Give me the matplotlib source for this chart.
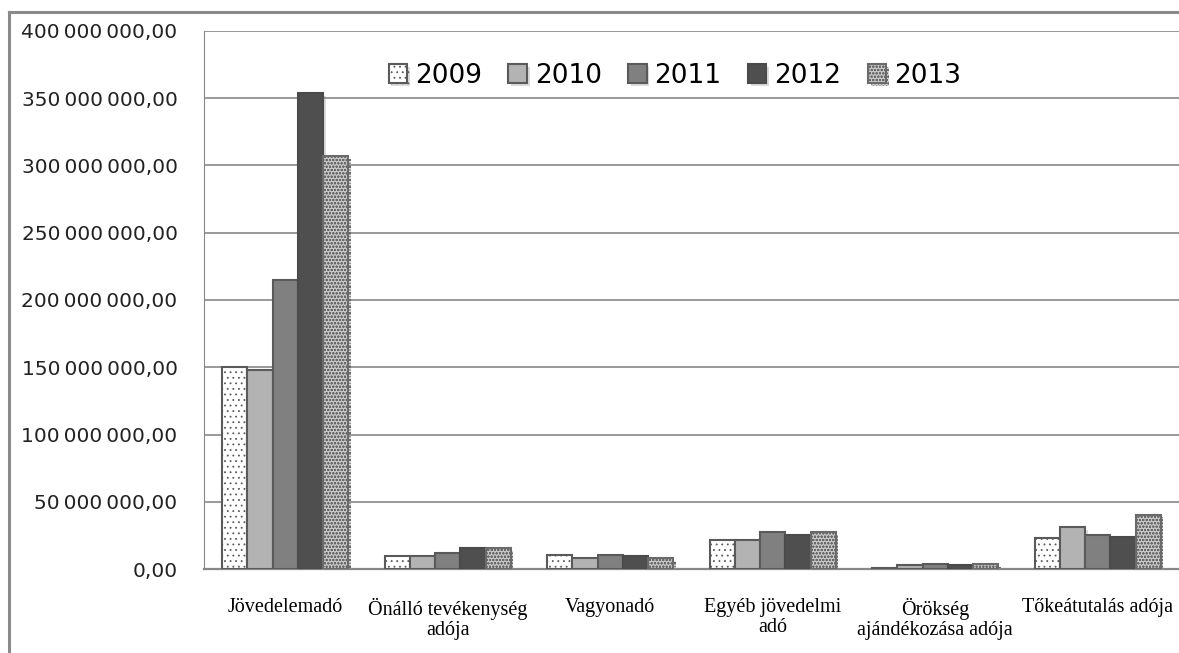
import numpy as np
import matplotlib
matplotlib.use("Agg")
import matplotlib.pyplot as plt
import matplotlib.patheffects as pe
from matplotlib.lines import Line2D

categories = ["Jövedelemadó", "Önálló tevékenység\nadója", "Vagyonadó",
              "Egyéb jövedelmi\nadó", "Örökség\najándékozása adója",
              "Tőkeátutalás adója"]
years = ["2009", "2010", "2011", "2012", "2013"]

# millio Ft
v2009 = [150.0, 9.6, 10.4, 21.7, 1.0, 23.4]
v2010 = [147.7, 9.5, 8.2, 21.7, 3.0, 30.9]
v2011 = [214.5, 12.0, 10.4, 27.2, 3.7, 25.2]
v2012 = [354.0, 15.8, 9.6, 25.2, 3.0, 24.0]
v2013 = [307.0, 15.8, 8.2, 27.2, 3.7, 40.5]
series = [v2009, v2010, v2011, v2012, v2013]

faces = ["white", "#b3b3b3", "#808080", "#4f4f4f", "#c8c8c8"]
hatches = ["...", None, None, None, "ooooo"]
edges = ["#5a5a5a", "#5a5a5a", "#5a5a5a", "#4a4a4a", "#6a6a6a"]

yticks = np.arange(0, 400_000_001, 50_000_000)


def fmt(v):
    s = f"{v:,.2f}"
    return s.replace(",", "\u2009").replace(".", ",")


plt.rcParams["hatch.linewidth"] = 0.6
fig = plt.figure(figsize=(11.79, 6.53), dpi=100)
ax = fig.add_axes([0.173, 0.1286, 0.827, 0.824])

x = np.arange(len(categories))
w = 0.155
shadow = [pe.SimplePatchShadow(offset=(2, -2), shadow_rgbFace="#999999", alpha=0.35), pe.Normal()]
for i, vals in enumerate(series):
    bars = ax.bar(x + (i - 2) * w, np.array(vals) * 1e6, w, color=faces[i],
                  edgecolor=edges[i], linewidth=1.5, hatch=hatches[i], zorder=3,
                  label=years[i])
    for b in bars:
        b.set_path_effects(shadow)

ax.set_xlim(-0.5, len(categories) - 0.5)
ax.set_ylim(0, 400_000_000)
ax.set_yticks(yticks)
ax.set_yticklabels([fmt(v) for v in yticks], fontsize=14.5, color="#222222")
ax.yaxis.grid(True, color="#878787", linewidth=1.2)
ax.set_axisbelow(True)
ax.tick_params(axis="both", length=0)
ax.tick_params(axis="y", pad=19)
ax.set_xticks(x)
ax.set_xticklabels(categories, family=["Liberation Serif", "DejaVu Serif"],
                   fontsize=14.5, linespacing=1.05)
ax.tick_params(axis="x", pad=21)
for s in ["top", "right"]:
    ax.spines[s].set_visible(False)
ax.spines["left"].set_color("#878787")
ax.spines["bottom"].set_color("#878787")
ax.spines["bottom"].set_linewidth(1.6)

leg = ax.legend(loc="upper center", bbox_to_anchor=(0.483, 0.985), ncol=5, frameon=False,
                prop={"size": 19},
                handlelength=0.7, handleheight=0.7, handletextpad=0.3, columnspacing=1.0)

# outer chart frame (clipped at the image edge)
fig.add_artist(Line2D([0.0075, 0.0075], [0, 0.981], color="#8a8a8a", linewidth=2.2,
                      transform=fig.transFigure))
fig.add_artist(Line2D([0.0075, 1.0], [0.981, 0.981], color="#8a8a8a", linewidth=2.2,
                      transform=fig.transFigure))

fig.savefig("out.png", dpi=100)
